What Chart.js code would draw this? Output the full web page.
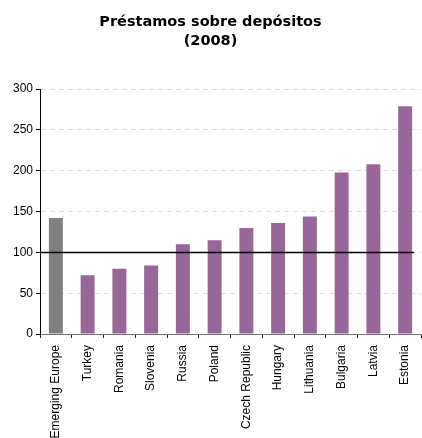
<!DOCTYPE html>
<html>
<head>
<meta charset="utf-8">
<script src="https://cdn.jsdelivr.net/npm/chart.js@4/dist/chart.umd.min.js"></script>
<style>
  html, body { margin: 0; padding: 0; background: #fff; }
  #wrap { width: 422px; height: 438px; }
</style>
</head>
<body>
<div id="wrap"><canvas id="loansChart" width="422" height="438"></canvas></div>
<script>
// Datos: préstamos / depósitos (%), 2008
const countries = ['Emerging Europe', 'Turkey', 'Romania', 'Slovenia', 'Russia', 'Poland',
    'Czech Republic', 'Hungary', 'Lithuania', 'Bulgaria', 'Latvia', 'Estonia'];
const ratios = [142, 72, 80, 84, 110, 115, 130, 136, 144, 198, 208, 279];
const yTicks = [0, 50, 100, 150, 200, 250, 300];
const refLevel = 100;

const purple = '#996699';
const grey = '#808080';

// Línea de referencia en 100
const refLine = {
    id: 'refLine',
    afterDatasetsDraw(chart) {
        const { ctx, chartArea, scales } = chart;
        const y = Math.round(scales.y.getPixelForValue(refLevel)) + 0.5;
        const xEnd = scales.x.getPixelForValue(countries.length - 1) + 9;
        ctx.save();
        ctx.strokeStyle = '#000';
        ctx.lineWidth = 1.3;
        ctx.beginPath();
        ctx.moveTo(chartArea.left, y);
        ctx.lineTo(xEnd, y);
        ctx.stroke();
        ctx.restore();
    }
};

const ctx = document.getElementById('loansChart').getContext('2d');
new Chart(ctx, {
    type: 'bar',
    data: {
        labels: countries,
        datasets: [{
            data: ratios,
            backgroundColor: countries.map((c, i) => i === 0 ? grey : purple),
            borderWidth: 0,
            barPercentage: 0.44,
            categoryPercentage: 1
        }]
    },
    options: {
        responsive: false,
        animation: false,
        layout: { padding: { left: 0, right: 1, top: 0, bottom: 0 } },
        plugins: {
            legend: { display: false },
            tooltip: { enabled: false },
            title: {
                display: true,
                text: ['Préstamos sobre depósitos', '(2008)'],
                color: '#000',
                font: { family: 'DejaVu Sans', size: 14.5, weight: 'bold', lineHeight: 1.35 },
                padding: { top: 12, bottom: 38 }
            }
        },
        scales: {
            x: {
                grid: {
                    drawOnChartArea: false,
                    offset: true,
                    tickLength: 4,
                    tickColor: '#222'
                },
                border: { color: '#777', width: 1 },
                ticks: {
                    autoSkip: false,
                    minRotation: 90,
                    maxRotation: 90,
                    padding: 7,
                    color: '#000',
                    font: { family: 'Liberation Sans', size: 12 }
                },
                afterFit(scale) {
                    scale.height = 104;
                    scale.paddingLeft = 0;
                    scale.paddingRight = 0;
                }
            },
            y: {
                min: 0,
                max: 300,
                afterBuildTicks(scale) { scale.ticks = yTicks.map(v => ({ value: v })); },
                grid: {
                    color: ctx => ctx.tick && ctx.tick.value === 0 ? 'rgba(0,0,0,0)' : '#dcdcdc',
                    tickColor: '#000',
                    tickLength: 4,
                    tickBorderDash: []
                },
                border: { color: '#000', width: 1, dash: [5, 4] },
                ticks: {
                    padding: 3,
                    color: '#000',
                    font: { family: 'Liberation Sans', size: 12 }
                },
                afterFit(scale) { scale.width = 40; }
            }
        }
    },
    plugins: [refLine]
});
</script>
</body>
</html>
